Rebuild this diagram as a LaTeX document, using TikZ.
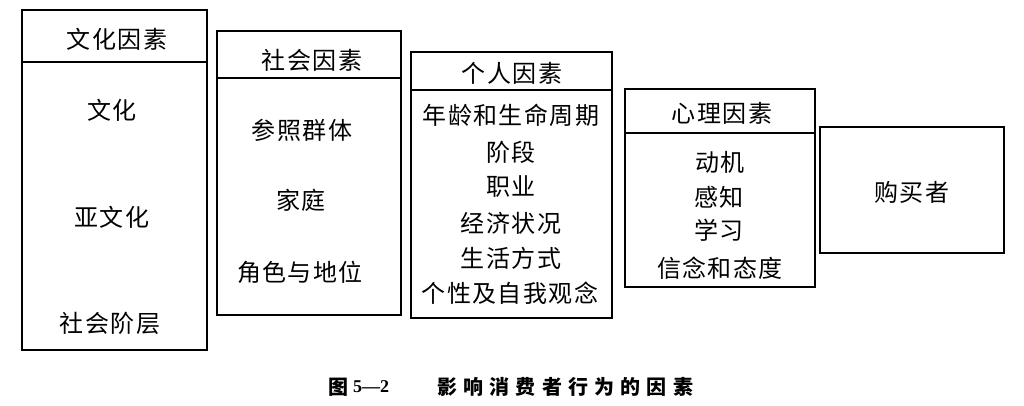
\documentclass[tikz,border=0pt]{standalone}
\usepackage{fontspec}
\newfontfamily\cjk[LetterSpace=6]{Noto Sans CJK SC}
\newfontfamily\cjkcap[LetterSpace=31]{Noto Sans CJK SC}
\newfontfamily\serifb{Liberation Serif}
\begin{document}
\begin{tikzpicture}[x=1pt,y=-1pt,
  box/.style={draw=black,line width=1.2pt},
  txt/.style={inner sep=0pt,font=\cjk\fontsize{24}{28}\selectfont},
  captxt/.style={inner sep=0pt,font=\cjkcap\bfseries\fontsize{20}{22}\selectfont}]
\useasboundingbox (0,0) rectangle (1024,405);
\fill[white] (0,0) rectangle (1024,405);
% box 1
\draw[box] (22,10) rectangle (207,350);
\draw[box] (22,62) -- (207,62);
\node[txt] (h1) at (117,39) {文化因素};
\node[txt] (a1) at (112,110) {文化};
\node[txt] (a2) at (112,217) {亚文化};
\node[txt] (a3) at (110,323) {社会阶层};
% box 2
\draw[box] (217,31) rectangle (401,315);
\draw[box] (217,78) -- (401,78);
\node[txt] (h2) at (312,60) {社会因素};
\node[txt] (b1) at (302,130) {参照群体};
\node[txt] (b2) at (301,200) {家庭};
\node[txt] (b3) at (300,272) {角色与地位};
% box 3
\draw[box] (411,52) rectangle (612,318);
\draw[box] (411,90) -- (612,90);
\node[txt] (h3) at (512,73) {个人因素};
\node[txt] (c1) at (511,115) {年龄和生命周期};
\node[txt] (c2) at (511,152) {阶段};
\node[txt] (c3) at (511,187) {职业};
\node[txt] (c4) at (511,223) {经济状况};
\node[txt] (c5) at (511,258) {生活方式};
\node[txt] (c6) at (510,293) {个性及自我观念};
% box 4
\draw[box] (625,89) rectangle (815,287);
\draw[box] (625,133) -- (815,133);
\node[txt] (h4) at (722,113) {心理因素};
\node[txt] (d1) at (720,162) {动机};
\node[txt] (d2) at (719,197) {感知};
\node[txt] (d3) at (719,230) {学习};
\node[txt] (d4) at (720,268) {信念和态度};
% box 5
\draw[box] (820,127) rectangle (1004,253);
\node[txt] (e1) at (912,192) {购买者};
% caption
\node[inner sep=0pt,font=\cjk\bfseries\fontsize{20}{22}\selectfont] (k1) at (338,387) {图};
\node[inner sep=0pt,font=\serifb\bfseries\fontsize{18}{22}\selectfont] (k2) at (371,387) {5—2};
\node[captxt,anchor=west] (k3) at (437,387) {影响消费者行为的因素};
\end{tikzpicture}
\end{document}
